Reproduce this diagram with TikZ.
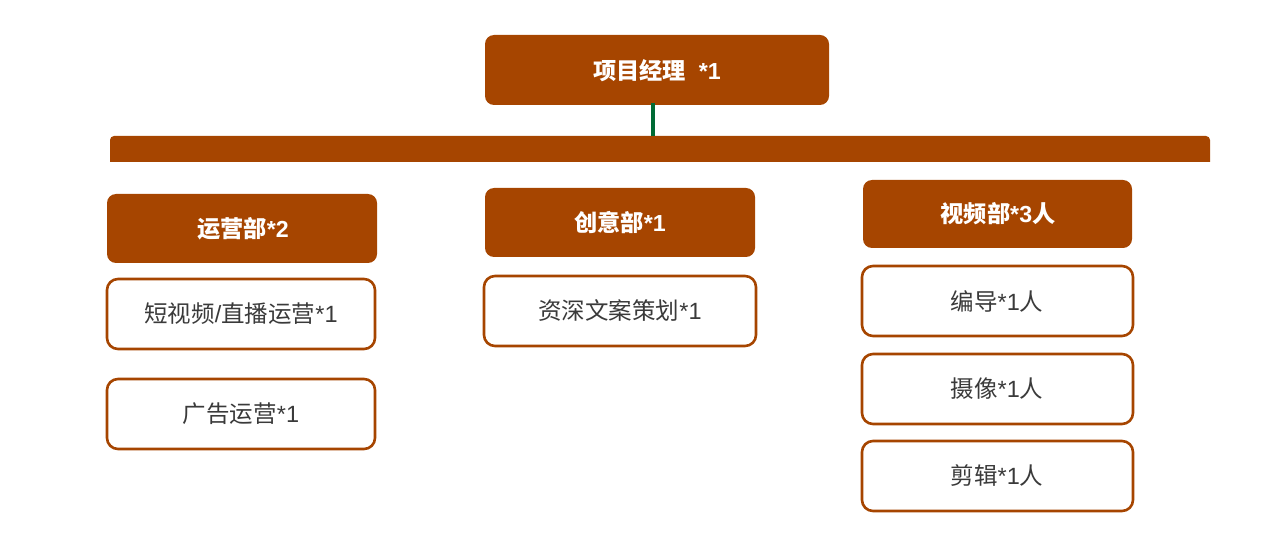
\documentclass[tikz,border=0pt]{standalone}
\usepackage{fontspec}
\newfontfamily\cjk{Noto Sans CJK SC}
\newfontfamily\lat{Liberation Sans}
\definecolor{brn}{HTML}{A64500}
\definecolor{grn}{HTML}{006B35}
\definecolor{txt}{HTML}{3A3A3A}
\newcommand{\lt}[1]{{\lat #1}}
\begin{document}
\begin{tikzpicture}[x=1pt,y=-1pt,
  head/.style={fill=brn,draw=none,rounded corners=9pt},
  item/.style={fill=white,draw=brn,line width=2.6pt,rounded corners=11pt},
  htext/.style={text=white,font=\cjk\bfseries\fontsize{23.2}{27}\selectfont},
  itext/.style={text=txt,font=\cjk\fontsize{23.5}{27}\selectfont}]
\useasboundingbox (0,0) rectangle (1271,537);
% manager
\draw[head] (485,35) rectangle (829,105);
\node[htext] (pm) at (657,71) {项目经理\lt{\bfseries\ \ *1}};
% bar
\fill[brn] (110,162) -- (110,140) to[out=90,in=180] (114,136) -- (1206,136) to[out=0,in=90] (1210,140) -- (1210,162) -- cycle;
\coordinate (bartop) at (653,136);
\coordinate (pmbot) at (653,103);
\draw[grn,line width=3.2pt] (pmbot) -- (bartop);
% departments
\draw[head] (107,194) rectangle (377,263);
\node[htext] (yy) at (243,229) {运营部\lt{\bfseries *2}};
\draw[head] (485,188) rectangle (755,257);
\node[htext] (cy) at (620,223) {创意部\lt{\bfseries *1}};
\draw[head] (863,180) rectangle (1132,248);
\node[htext] (sp) at (998,214) {视频部\lt{\bfseries *3}人};
% items
\draw[item] (107,279) rectangle (375,349);
\node[itext] (a1) at (241,314) {短视频\lt{/}直播运营\lt{*1}};
\draw[item] (107,379) rectangle (375,449);
\node[itext] (a2) at (241,414) {广告运营\lt{*1}};
\draw[item] (484,276) rectangle (756,346);
\node[itext] (b1) at (620,311) {资深文案策划\lt{*1}};
\draw[item] (862,266) rectangle (1133,336);
\node[itext] (c1) at (997,301) {编导\lt{*1}人};
\draw[item] (862,354) rectangle (1133,424);
\node[itext] (c2) at (997,389) {摄像\lt{*1}人};
\draw[item] (862,441) rectangle (1133,511);
\node[itext] (c3) at (997,476) {剪辑\lt{*1}人};
\end{tikzpicture}
\end{document}
